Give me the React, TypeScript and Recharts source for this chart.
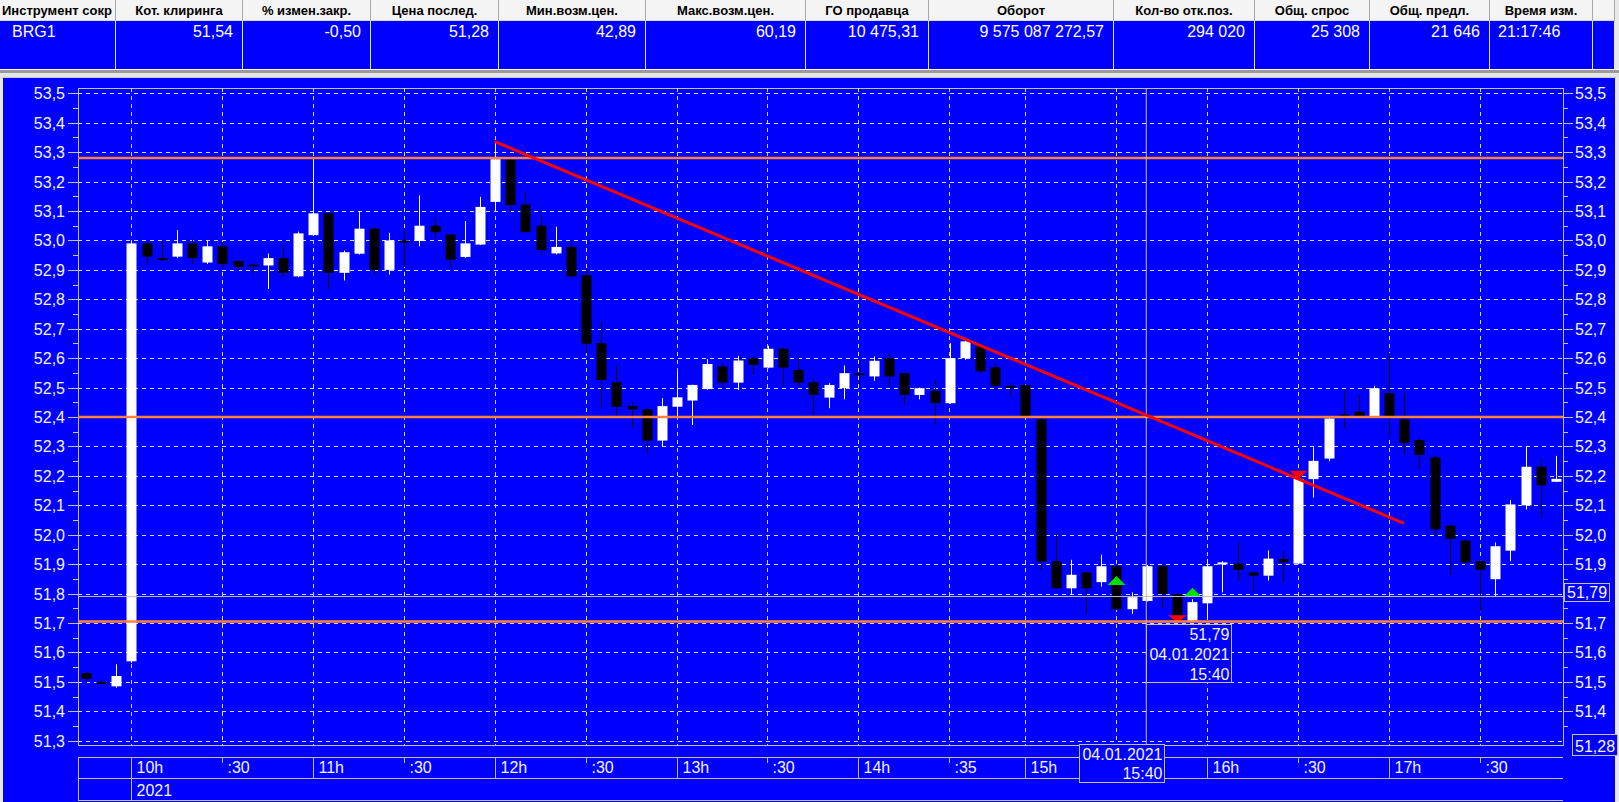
import React from 'react'
import {
  Bar,
  CartesianGrid,
  ComposedChart,
  ReferenceDot,
  ReferenceLine,
  XAxis,
  YAxis
} from 'recharts'

// 5-minute bars, 04.01.2021
const opens = [
  51.53, 51.50, 51.485, 51.57, 52.99, 52.94, 52.945, 52.99, 52.925, 52.98,
  52.93, 52.918, 52.915, 52.94, 52.878, 53.018, 53.092, 52.89, 52.955, 53.04,
  52.9, 53.0, 52.998, 53.05, 53.02, 52.944, 52.986, 53.131, 53.274, 53.122,
  53.05, 52.956, 52.978, 52.882, 52.651, 52.518, 52.437, 52.426, 52.32, 52.435,
  52.456, 52.495, 52.572, 52.517, 52.6, 52.568, 52.632, 52.56, 52.518, 52.466,
  52.498, 52.549, 52.538, 52.6, 52.549, 52.475, 52.489, 52.447, 52.6, 52.642,
  52.569, 52.506, 52.509, 52.392, 51.91, 51.818, 51.872, 51.839, 51.893, 51.747,
  51.775, 51.893, 51.799, 51.705, 51.767, 51.904, 51.902, 51.872, 51.861, 51.918,
  51.902, 52.189, 52.259, 52.408, 52.418, 52.401, 52.481, 52.392, 52.322, 52.263,
  52.031, 51.98, 51.91, 51.849, 51.946, 52.1, 52.231, 52.18
]
const highs = [
  51.535, 51.505, 51.56, 52.995, 52.995, 53.0, 53.035, 53.005, 53.0, 52.995,
  52.932, 52.92, 52.955, 52.985, 53.03, 53.278, 53.097, 52.965, 53.1, 53.045,
  53.026, 53.034, 53.153, 53.075, 53.023, 53.066, 53.148, 53.333, 53.276, 53.165,
  53.086, 53.047, 53.003, 52.9, 52.725, 52.575, 52.452, 52.43, 52.464, 52.555,
  52.51, 52.597, 52.585, 52.608, 52.606, 52.642, 52.636, 52.606, 52.532, 52.515,
  52.575, 52.594, 52.606, 52.615, 52.55, 52.5, 52.523, 52.651, 52.66, 52.645,
  52.585, 52.515, 52.51, 52.395, 52.004, 51.915, 51.875, 51.932, 51.895, 51.804,
  51.897, 51.9, 51.8, 51.781, 51.918, 51.91, 51.975, 51.875, 51.947, 51.944,
  52.2, 52.297, 52.4, 52.494, 52.475, 52.506, 52.617, 52.483, 52.327, 52.268,
  52.035, 51.986, 51.913, 51.974, 52.118, 52.3, 52.257, 52.268
]
const lows = [
  51.495, 51.495, 51.48, 51.565, 52.92, 52.93, 52.94, 52.92, 52.92, 52.905,
  52.897, 52.887, 52.835, 52.877, 52.875, 53.015, 52.833, 52.864, 52.952, 52.884,
  52.884, 52.91, 52.98, 53.003, 52.91, 52.94, 52.985, 53.1, 53.094, 53.028,
  52.952, 52.953, 52.876, 52.617, 52.43, 52.407, 52.365, 52.275, 52.3, 52.4,
  52.373, 52.492, 52.503, 52.492, 52.543, 52.566, 52.503, 52.501, 52.409, 52.43,
  52.46, 52.512, 52.523, 52.503, 52.441, 52.46, 52.373, 52.445, 52.594, 52.549,
  52.492, 52.47, 52.4, 51.879, 51.815, 51.796, 51.731, 51.824, 51.745, 51.731,
  51.773, 51.75, 51.705, 51.703, 51.716, 51.804, 51.844, 51.804, 51.844, 51.835,
  51.9, 52.126, 52.25, 52.361, 52.4, 52.4, 52.333, 52.272, 52.223, 51.993,
  51.864, 51.895, 51.739, 51.79, 51.91, 52.086, 52.054, 52.179
]
const closes = [
  51.51, 51.499, 51.52, 52.99, 52.945, 52.935, 52.99, 52.94, 52.98, 52.92,
  52.91, 52.916, 52.94, 52.89, 53.024, 53.092, 52.89, 52.96, 53.04, 52.9,
  53.0, 52.998, 53.05, 53.028, 52.935, 52.99, 53.114, 53.276, 53.12, 53.028,
  52.967, 52.978, 52.878, 52.649, 52.526, 52.435, 52.426, 52.32, 52.437, 52.467,
  52.509, 52.58, 52.517, 52.592, 52.577, 52.632, 52.568, 52.517, 52.475, 52.509,
  52.549, 52.548, 52.591, 52.538, 52.475, 52.498, 52.447, 52.6, 52.657, 52.555,
  52.506, 52.501, 52.401, 51.909, 51.818, 51.864, 51.818, 51.893, 51.747, 51.788,
  51.893, 51.798, 51.71, 51.771, 51.893, 51.906, 51.881, 51.861, 51.919, 51.906,
  52.19, 52.251, 52.395, 52.404, 52.401, 52.498, 52.401, 52.312, 52.271, 52.018,
  51.986, 51.906, 51.881, 51.961, 52.103, 52.231, 52.168, 52.19
]

// signal arrows
const markIdx = [68, 72, 73, 80]
const markKind = ['up', 'down', 'up', 'down']
const markPrice = [51.86, 51.699, 51.82, 52.19]

// time axis
const axisTickIdx = [3, 9, 15, 21, 27, 33, 39, 45, 51, 57, 62, 74, 80, 86, 92]
const axisTickLabels = ['10h', ':30', '11h', ':30', '12h', ':30', '13h', ':30', '14h', ':35', '15h', '16h', ':30', '17h', ':30']
const gridIdx = [3, 9, 15, 21, 27, 33, 39, 45, 51, 57, 62, 68, 74, 80, 86, 92]

// price axis
const majorTicks = [
  51.3, 51.4, 51.5, 51.6, 51.7, 51.8, 51.9, 52.0, 52.1, 52.2, 52.3, 52.4,
  52.5, 52.6, 52.7, 52.8, 52.9, 53.0, 53.1, 53.2, 53.3, 53.4, 53.5
]
const minorTicks = majorTicks.slice(1).map(v => +(v - 0.05).toFixed(2))
const allTicks = [...majorTicks, ...minorTicks].sort((a, b) => a - b)
const yDomain = [51.2856, 53.518]

const levels = [53.28, 52.40, 51.705]
const trend = [{x: 27, y: 53.336}, {x: 87, y: 52.039}]
const crossIdx = 70
const crossPrice = 51.79
const lastPrice = 51.28

// quote table
const colEdges = [0, 116, 243, 371, 499, 646, 806, 929, 1114, 1255, 1370, 1490, 1593, 1615]
const headerTitles = ['Инструмент сокр', 'Кот. клиринга', '% измен.закр.', 'Цена послед.', 'Мин.возм.цен.', 'Макс.возм.цен.', 'ГО продавца', 'Оборот', 'Кол-во отк.поз.', 'Общ. спрос', 'Общ. предл.', 'Время изм.', '']
const headerValues = ['BRG1', '51,54', '-0,50', '51,28', '42,89', '60,19', '10 475,31', '9 575 087 272,57', '294 020', '25 308', '21 646', '21:17:46', '']

const candles = opens.map((o, i) => {
  const m = markIdx.indexOf(i)
  return {
    i,
    open: o,
    high: highs[i],
    low: lows[i],
    close: closes[i],
    range: [lows[i], highs[i]],
    mark: m >= 0 ? markKind[m] : null,
    markAt: m >= 0 ? markPrice[m] : null
  }
})

const FONT = "'Liberation Sans', Arial, sans-serif"
const BLUE = '#0000ff'
const LINE = '#c0c0c0'
const TXT = '#f4f4ff'
const AX_FS = 16
const fmt = (v: number, d = 1) => v.toFixed(d).replace('.', ',')
const isMajor = (v: number) => Math.abs(v * 10 - Math.round(v * 10)) < 1e-6
const snap = (v: number) => Math.round(v) + 0.5

// recharts scale may be a d3 function or a wrapper object
const scaleOf = (s: any, v: number): number => {
  if (!s) return NaN
  if (typeof s === 'function') return s(v)
  if (typeof s.map === 'function') return s.map(v)
  if (typeof s.scale === 'function') return s.scale(v)
  return NaN
}
const bandOf = (s: any): number => {
  if (!s) return 0
  if (typeof s.bandwidth === 'function') return s.bandwidth()
  if (typeof s.scale?.bandwidth === 'function') return s.scale.bandwidth()
  return 0
}

const Candle = (props: any) => {
  const {x, y, width, height, payload} = props
  if (!payload || x == null || y == null) return null
  const {open, close, high, low, mark, markAt} = payload
  const top = Math.min(y, y + height)
  const bottom = Math.max(y, y + height)
  const k = high > low ? (bottom - top) / (high - low) : 0
  const py = (v: number) => top + (high - v) * k
  const up = close >= open
  const color = up ? '#ffffff' : '#000000'
  const cx = Math.round(x + width / 2)
  const bTop = py(Math.max(open, close))
  const bh = Math.max(2, py(Math.min(open, close)) - bTop)
  let arrow = null
  if (mark) {
    const ay = py(markAt)
    arrow = mark === 'up'
      ? <polygon points={`${cx + 0.5},${ay} ${cx - 8.5},${ay + 9} ${cx + 9.5},${ay + 9}`} fill='#00e000'/>
      : <polygon points={`${cx + 0.5},${ay} ${cx - 8.5},${ay - 8} ${cx + 9.5},${ay - 8}`} fill='#ff0000'/>
  }
  return (
    <g>
      <line x1={cx + 0.5} x2={cx + 0.5} y1={top} y2={bottom} stroke={color} strokeWidth={1}/>
      <rect x={cx - 4.5} y={bTop} width={10} height={bh} fill={color}/>
      {arrow}
    </g>
  )
}

const LeftTick = (p: any) => {
  const v = p.payload.value
  const major = isMajor(v)
  const y = snap(p.y)
  return (
    <g>
      <line x1={p.x - (major ? 10 : 5)} x2={p.x} y1={y} y2={y} stroke={LINE}/>
      {major && <text x={p.x - 13} y={p.y + 6} textAnchor='end' fill={TXT} fontSize={AX_FS} fontFamily={FONT}>{fmt(v)}</text>}
    </g>
  )
}

const hiddenRight = [51.8, 51.3]
const RightTick = (p: any) => {
  const v = p.payload.value
  const major = isMajor(v)
  if (hiddenRight.some(h => Math.abs(h - v) < 1e-6)) return <g/>
  const y = snap(p.y)
  return (
    <g>
      <line x1={p.x} x2={p.x + (major ? 10 : 5)} y1={y} y2={y} stroke={LINE}/>
      {major && <text x={p.x + 12} y={p.y + 6} textAnchor='start' fill={TXT} fontSize={AX_FS} fontFamily={FONT}>{fmt(v)}</text>}
    </g>
  )
}

const TimeTick = (p: any) => {
  const v = p.payload.value
  const n = axisTickIdx.indexOf(v)
  if (n < 0) return <g/>
  const label = axisTickLabels[n]
  const hour = label.endsWith('h')
  const x = snap(p.x)
  return (
    <g>
      <line x1={x} x2={x} y1={p.y + 12} y2={v === 3 ? p.y + 55 : hour ? p.y + 33 : p.y + 18} stroke={LINE}/>
      <text x={x + 5} y={p.y + 28} fill={TXT} fontSize={AX_FS} fontFamily={FONT}>{label}</text>
      {v === 3 && <text x={x + 5} y={p.y + 51} fill={TXT} fontSize={AX_FS} fontFamily={FONT}>2021</text>}
    </g>
  )
}

const AxisBox = (p: any) => {
  const {viewBox, text, dy, dx, h} = p
  if (!viewBox) return null
  const bx = viewBox.x + viewBox.width + dx
  return (
    <g>
      <rect x={bx + 0.5} y={Math.round(viewBox.y + dy) + 0.5} width={45} height={h} fill={BLUE} stroke={LINE}/>
      <text x={bx + 3} y={viewBox.y + dy + h - 3} fill={TXT} fontSize={AX_FS} fontFamily={FONT}>{text}</text>
    </g>
  )
}

const PriceBox = (p: any) => {
  const {cx, cy} = p
  if (cx == null || cy == null) return null
  const left = Math.round(cx) + 0.5
  const top = Math.round(cy) + 27.5
  return (
    <g>
      <rect x={left} y={top} width={85} height={58} fill={BLUE} stroke={LINE}/>
      <text x={left + 83} y={top + 15} textAnchor='end' fill={TXT} fontSize={AX_FS} fontFamily={FONT}>{fmt(crossPrice, 2)}</text>
      <text x={left + 83} y={top + 35} textAnchor='end' fill={TXT} fontSize={AX_FS} fontFamily={FONT}>04.01.2021</text>
      <text x={left + 83} y={top + 55} textAnchor='end' fill={TXT} fontSize={AX_FS} fontFamily={FONT}>15:40</text>
    </g>
  )
}

const DateBox = (p: any) => {
  const {cx, cy} = p
  if (cx == null || cy == null) return null
  const left = Math.round(cx) - 66.5
  const top = Math.round(cy) - 0.5
  return (
    <g>
      <rect x={left} y={top} width={85} height={38} fill={BLUE} stroke={LINE}/>
      <text x={left + 83} y={top + 15} textAnchor='end' fill={TXT} fontSize={AX_FS} fontFamily={FONT}>04.01.2021</text>
      <text x={left + 83} y={top + 34} textAnchor='end' fill={TXT} fontSize={AX_FS} fontFamily={FONT}>15:40</text>
    </g>
  )
}

const vGen = ({xAxis}: any) => {
  const s = xAxis?.scale
  const bw = bandOf(s)
  return gridIdx.map(i => scaleOf(s, i) + bw / 2).filter(v => Number.isFinite(v)).map(snap)
}
const hGen = ({yAxis}: any) => {
  const s = yAxis?.scale
  return majorTicks.map(v => scaleOf(s, v)).filter(v => Number.isFinite(v)).map(snap)
}

const abs = (l: number, t: number, w: number, h: number, bg: string): React.CSSProperties =>
  ({position: 'absolute', left: l, top: t, width: w, height: h, background: bg})

const QuoteTable = () => (
  <>
    {headerTitles.map((t, i) => {
      const w = colEdges[i + 1] - colEdges[i]
      return (
        <div key={'h' + i} style={{
          ...abs(colEdges[i], 0, w, 21, '#f4f4f4'), boxSizing: 'border-box',
          borderRight: '1px solid #a8a8a8', borderBottom: '1px solid #d8d8d8',
          fontSize: 13, fontWeight: 'bold', lineHeight: '21px', color: '#000', whiteSpace: 'nowrap', overflow: 'hidden',
          textAlign: i === 0 ? 'left' : 'center', paddingLeft: i === 0 ? 2 : 0
        }}>{t}</div>
      )
    })}
    {headerValues.map((t, i) => {
      const w = colEdges[i + 1] - colEdges[i]
      const left = i === 0 || i === 11
      return (
        <div key={'v' + i} style={{
          ...abs(colEdges[i], 21, w, 48, BLUE), boxSizing: 'border-box',
          borderRight: '1px solid #e0e0ff', fontSize: 16, lineHeight: '18px', color: '#fff',
          whiteSpace: 'pre', paddingTop: 2, textAlign: left ? 'left' : 'right',
          paddingLeft: i === 0 ? 12 : i === 11 ? 8 : 0, paddingRight: left ? 0 : 9
        }}>{t}</div>
      )
    })}
  </>
)

export default function App() {
  return (
    <div style={{position: 'relative', width: 1619, height: 802, overflow: 'hidden', background: '#e8e8e8', fontFamily: FONT}}>
      <style>{'body{margin:0}'}</style>
      <QuoteTable/>
      <div style={abs(0, 69, 1619, 1, '#ffffff')}/>
      <div style={abs(0, 70, 1619, 3, '#9a9a9a')}/>
      <div style={abs(0, 73, 1619, 4, '#e4e4e4')}/>
      <div style={abs(2, 77, 1614, 1, '#c8c8c8')}/>
      <div style={abs(3, 78, 1612, 724, BLUE)}/>
      {/* time axis rows */}
      <div style={abs(78, 757, 1485, 1, LINE)}/>
      <div style={abs(78, 778, 1485, 1, LINE)}/>
      <div style={abs(78, 800, 1485, 1, LINE)}/>
      <div style={abs(78, 757, 1, 44, LINE)}/>
      {/* plot frame */}
      <div style={{...abs(78, 88, 1486, 658, 'transparent'), boxSizing: 'border-box', border: `1px solid ${LINE}`}}/>
      <div style={{position: 'absolute', left: 0, top: 0}}>
        <ComposedChart width={1619} height={802} data={candles} margin={{top: 88, right: 0, bottom: 0, left: 0}}>
          <CartesianGrid
            yAxisId='left'
            stroke='#d4d4ff'
            strokeDasharray='4 4'
            verticalCoordinatesGenerator={vGen}
            horizontalCoordinatesGenerator={hGen}
          />
          <XAxis
            dataKey='i'
            type='category'
            ticks={axisTickIdx}
            interval={0}
            height={57}
            axisLine={false}
            tickLine={false}
            tickSize={0}
            tickMargin={0}
            tick={TimeTick}
          />
          <YAxis
            yAxisId='left'
            type='number'
            domain={yDomain}
            allowDataOverflow
            ticks={allTicks}
            interval={0}
            width={78}
            axisLine={false}
            tickLine={false}
            tickSize={0}
            tickMargin={0}
            tick={LeftTick}
          />
          <YAxis
            yAxisId='right'
            orientation='right'
            type='number'
            domain={yDomain}
            allowDataOverflow
            ticks={allTicks}
            interval={0}
            width={56}
            axisLine={false}
            tickLine={false}
            tickSize={0}
            tickMargin={0}
            tick={RightTick}
          />
          <Bar yAxisId='left' dataKey='range' barSize={10} shape={Candle} isAnimationActive={false}/>
          {levels.map(v => (
            <ReferenceLine key={v} yAxisId='left' y={v} stroke='#ff7f3f' strokeWidth={2.5}/>
          ))}
          <ReferenceLine yAxisId='left' y={crossPrice} stroke={LINE}
            label={<AxisBox text={fmt(crossPrice, 2)} dx={1} dy={-14} h={18}/>}/>
          <ReferenceLine yAxisId='left' x={crossIdx} stroke={LINE}/>
          <ReferenceLine yAxisId='left' y={lastPrice} stroke='none' ifOverflow='visible'
            label={<AxisBox text={fmt(lastPrice, 2)} dx={9} dy={-13} h={21}/>}/>
          <ReferenceLine yAxisId='left' segment={trend} stroke='#ff0000' strokeWidth={3} ifOverflow='visible'/>
          <ReferenceDot yAxisId='left' x={crossIdx} y={crossPrice} r={0} shape={PriceBox}/>
          <ReferenceDot yAxisId='left' x={crossIdx} y={yDomain[0]} r={0} shape={DateBox}/>
        </ComposedChart>
      </div>
    </div>
  )
}
